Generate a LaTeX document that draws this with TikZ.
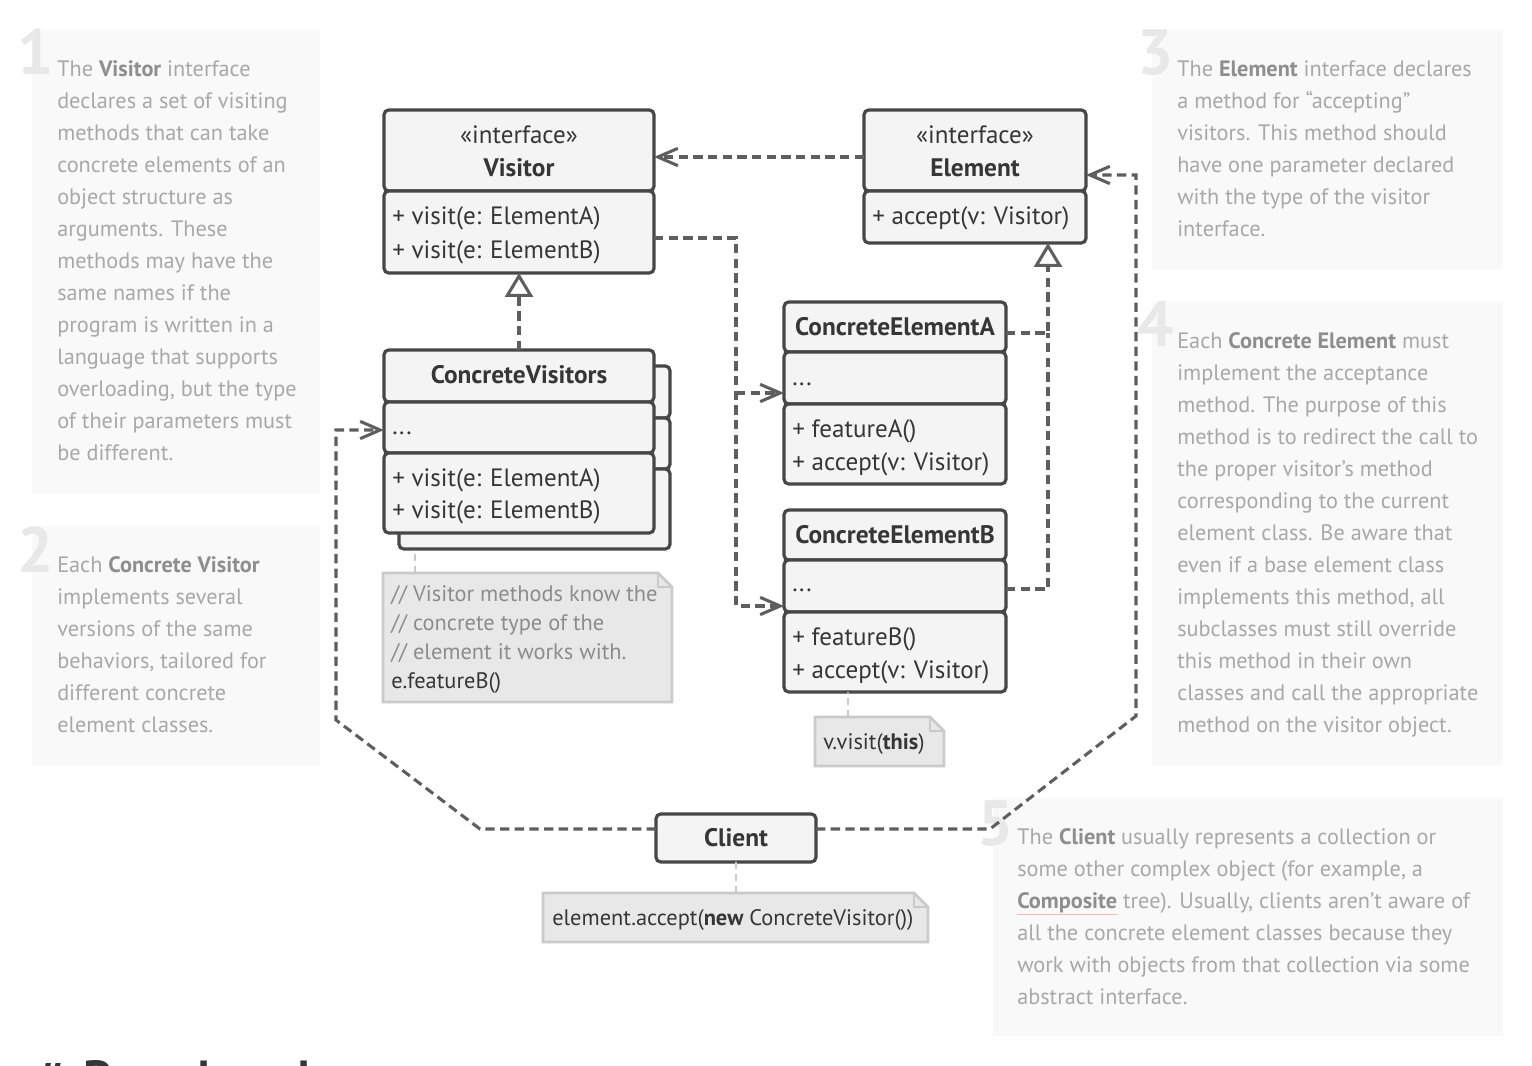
\documentclass[tikz,border=0pt]{standalone}
\usepackage{fontspec}
\setmainfont{PT Sans}
\usetikzlibrary{arrows.meta,calc}
\definecolor{boxline}{HTML}{474747}
\definecolor{boxfill}{HTML}{F4F4F4}
\definecolor{txt}{HTML}{363636}
\definecolor{conn}{HTML}{5E5E5E}
\definecolor{notefill}{HTML}{E8E8E8}
\definecolor{noteline}{HTML}{CACACA}
\definecolor{sidebg}{HTML}{F9F9F9}
\definecolor{sidetxt}{HTML}{A8A8A8}
\definecolor{sidebold}{HTML}{8E8E8E}
\definecolor{numcol}{HTML}{E8E8E8}
\definecolor{notecmt}{HTML}{8C8C8C}
\definecolor{ulred}{HTML}{F2B8B8}
\newcommand\sbf[1]{{\color{sidebold}\bfseries #1}}
\begin{document}
\begin{tikzpicture}[x=0.75pt,y=-0.75pt,
  sz/.style 2 args={minimum width=#1*0.75pt, minimum height=#2*0.75pt},
  comp/.style={draw=boxline, fill=boxfill, line width=2.4pt, rounded corners=3.5pt, inner sep=0pt, outer sep=0pt, anchor=north west},
  uml/.style={font=\fontsize{18.8}{24}\selectfont, text=txt, inner sep=0pt},
  umlb/.style={font=\fontsize{19}{24}\selectfont\bfseries, text=txt, inner sep=0pt},
  side/.style={font=\fontsize{16.7}{24}\selectfont, text=sidetxt, inner sep=0pt, align=left, anchor=north west},
  sidebox/.style={fill=sidebg, inner sep=0pt, outer sep=0pt, anchor=north west},
  num/.style={font=\fontsize{48}{48}\selectfont\bfseries, text=numcol, inner sep=0pt, anchor=base west},
  dep/.style={draw=conn, line width=2.3pt, dash pattern=on 7pt off 4pt},
  arr/.style={-{Straight Barb[length=15pt,width=13pt]}},
  real/.style={-{Triangle[length=18pt,width=21pt,fill=white]}},
  notebox/.style={inner sep=0pt, outer sep=0pt, anchor=north west},
  notedraw/.style={draw=noteline, fill=notefill, line width=2pt, line join=miter},
  notelink/.style={draw=noteline, line width=2.2pt, dash pattern=on 5pt off 4pt},
  ntxt/.style={font=\fontsize{16.8}{21.75}\selectfont, text=txt, inner sep=0pt, align=left},
]
\useasboundingbox (0,0) rectangle (1532,1066);
\clip (0,0) rectangle (1532,1066);
\fill[white] (0,0) rectangle (1532,1066);

% side boxes
\node[sidebox, sz={288}{463}] (s1) at (32,30) {};
\node[sidebox, sz={288}{239}] (s2) at (32,526) {};
\node[sidebox, sz={351}{239}] (s3) at (1152,30) {};
\node[sidebox, sz={351}{463}] (s4) at (1152,302) {};
\node[sidebox, sz={510}{238}] (s5) at (993,798) {};

\node[num] (d1) at (17,75) {1};
\node[num] (d2) at (17,572) {2};
\node[num] (d3) at (1137,75) {3};
\node[num] (d4) at (1137,347) {4};
\node[num] (d5) at (977,845) {5};

\node[side] (t1) at (57,60) {The \sbf{Visitor} interface\\declares a set of visiting\\methods that can take\\concrete elements of an\\object structure as\\arguments. These\\methods may have the\\same names if the\\program is written in a\\language that supports\\overloading, but the type\\of their parameters must\\be different.};
\node[side] (t2) at (57,556) {Each \sbf{Concrete Visitor}\\implements several\\versions of the same\\behaviors, tailored for\\different concrete\\element classes.};
\node[side] (t3) at (1177,60) {The \sbf{Element} interface declares\\a method for “accepting”\\visitors. This method should\\have one parameter declared\\with the type of the visitor\\interface.};
\node[side] (t4) at (1177,332) {Each \sbf{Concrete Element} must\\implement the acceptance\\method. The purpose of this\\method is to redirect the call to\\the proper visitor’s method\\corresponding to the current\\element class. Be aware that\\even if a base element class\\implements this method, all\\subclasses must still override\\this method in their own\\classes and call the appropriate\\method on the visitor object.};
\node[side] (t5) at (1017,828) {The \sbf{Client} usually represents a collection or\\some other complex object (for example, a\\{\color{ulred}$\underline{\hbox{\sbf{Composite}}}$} tree). Usually, clients aren’t aware of\\all the concrete element classes because they\\work with objects from that collection via some\\abstract interface.};

\node[font=\fontsize{37}{37}\selectfont\bfseries, text=txt, anchor=base west, inner sep=0pt] (pc) at (36,1095) {\#\hspace{0.4em}Pseudocode};

% Visitor
\node[comp, sz={270}{81}] (vh) at (384,110) {};
\node[comp, sz={270}{82}] (vm) at (384,191) {};
\node[uml, anchor=base] (vh1) at (519,144) {«interface»};
\node[umlb, anchor=base] (vh2) at (519,177) {Visitor};
\node[uml, anchor=base west] (vm1) at (392,225) {+ visit(e: ElementA)};
\node[uml, anchor=base west] (vm2) at (392,259) {+ visit(e: ElementB)};

% Element
\node[comp, sz={222}{81}] (eh) at (864,110) {};
\node[comp, sz={222}{52}] (em) at (864,191) {};
\node[uml, anchor=base] (eh1) at (975,144) {«interface»};
\node[umlb, anchor=base] (eh2) at (975,177) {Element};
\node[uml, anchor=base west] (em1) at (872,225) {+ accept(v: Visitor)};

% ConcreteVisitors (stack)
\node[comp, sz={271}{52}] (cb1) at (399,366) {};
\node[comp, sz={271}{51}] (cb2) at (399,418) {};
\node[comp, sz={271}{80}] (cb3) at (399,469) {};
\node[comp, sz={270}{52}] (cvh) at (384,350) {};
\node[comp, sz={270}{51}] (cva) at (384,402) {};
\node[comp, sz={270}{80}] (cvm) at (384,453) {};
\node[umlb, anchor=base] (cv1) at (519,383) {ConcreteVisitors};
\node[uml, anchor=base west] (cv2) at (392,434) {...};
\node[uml, anchor=base west] (cv3) at (392,486) {+ visit(e: ElementA)};
\node[uml, anchor=base west] (cv4) at (392,518) {+ visit(e: ElementB)};

% ConcreteElementA
\node[comp, sz={222}{50}] (ah) at (784,302) {};
\node[comp, sz={222}{52}] (aa) at (784,352) {};
\node[comp, sz={222}{80}] (am) at (784,404) {};
\node[umlb, anchor=base] (a1) at (895,335) {ConcreteElementA};
\node[uml, anchor=base west] (a2) at (792,385) {...};
\node[uml, anchor=base west] (a3) at (792,437) {+ featureA()};
\node[uml, anchor=base west] (a4) at (792,470) {+ accept(v: Visitor)};

% ConcreteElementB
\node[comp, sz={222}{50}] (bh) at (784,510) {};
\node[comp, sz={222}{52}] (ba) at (784,560) {};
\node[comp, sz={222}{80}] (bm) at (784,612) {};
\node[umlb, anchor=base] (b1) at (895,543) {ConcreteElementB};
\node[uml, anchor=base west] (b2) at (792,591) {...};
\node[uml, anchor=base west] (b3) at (792,645) {+ featureB()};
\node[uml, anchor=base west] (b4) at (792,678) {+ accept(v: Visitor)};

% Client
\node[comp, sz={160}{48}] (cl) at (656,814) {};
\node[umlb, anchor=base] (cl1) at (736,846) {Client};

% notes
\node[notebox, sz={289}{129}] (n1) at (383,573) {};
\node[notebox, sz={129}{49}] (n2) at (815,717) {};
\node[notebox, sz={385}{49}] (n3) at (543,893) {};
\foreach \n in {n1,n2,n3}{
  \draw[notedraw] (\n.north west) -- ($(\n.north east)+(-14,0)$) -- ($(\n.north east)+(0,14)$) -- (\n.south east) -- (\n.south west) -- cycle;
  \draw[draw=noteline, line width=1.5pt] ($(\n.north east)+(-14,0)$) -- ($(\n.north east)+(-14,14)$) -- ($(\n.north east)+(0,14)$);
}
\node[ntxt, anchor=north west] (n1t) at (391,585) {{\color{notecmt}// Visitor methods know the}\\{\color{notecmt}// concrete type of the}\\{\color{notecmt}// element it works with.}\\e.featureB()};
\node[ntxt, anchor=base west] (n2t) at (823,749) {v.visit({\bfseries this})};
\node[ntxt, anchor=base west] (n3t) at (552,925) {element.accept({\bfseries new} ConcreteVisitor())};

\draw[notelink] ($(n1.north west)+(32,0)$) coordinate (l1) -- (l1 |- cb3.south);
\draw[notelink] ($(n2.north west)+(33,0)$) coordinate (l2) -- (l2 |- bm.south);
\draw[notelink] (cl.south) -- (cl.south |- n3.north);

% connectors
\draw[dep,arr] ($(eh.west)+(0,6.5)$) -- ($(vh.east)+(0,6.5)$);
\draw[dep,arr] ($(vm.east)+(0,6)$) -| ($(ba.west)+(-48,20)$) -- ($(ba.west)+(0,20)$);
\draw[dep,arr] ($(aa.west)+(-48,15)$) -- ($(aa.west)+(0,15)$);
\draw[dep,real] (cvh.north) -- (vm.south);
\draw[dep,real] ($(ah.east)+(0,6)$) -| ($(em.south)+(73,0)$);
\draw[dep] ($(ba.east)+(0,3)$) -| ($(ah.east)+(42,6)$);
\draw[dep,arr] ($(cl.west)+(0,-9)$) -- ++(-176,0) -- ++(-144,-109) |- ($(cva.west)+(0,2.5)$);
\draw[dep,arr] ($(cl.east)+(0,-9)$) -- ++(174,0) -- ++(146,-113) |- ($(eh.east)+(0,24.5)$);
\end{tikzpicture}
\end{document}
